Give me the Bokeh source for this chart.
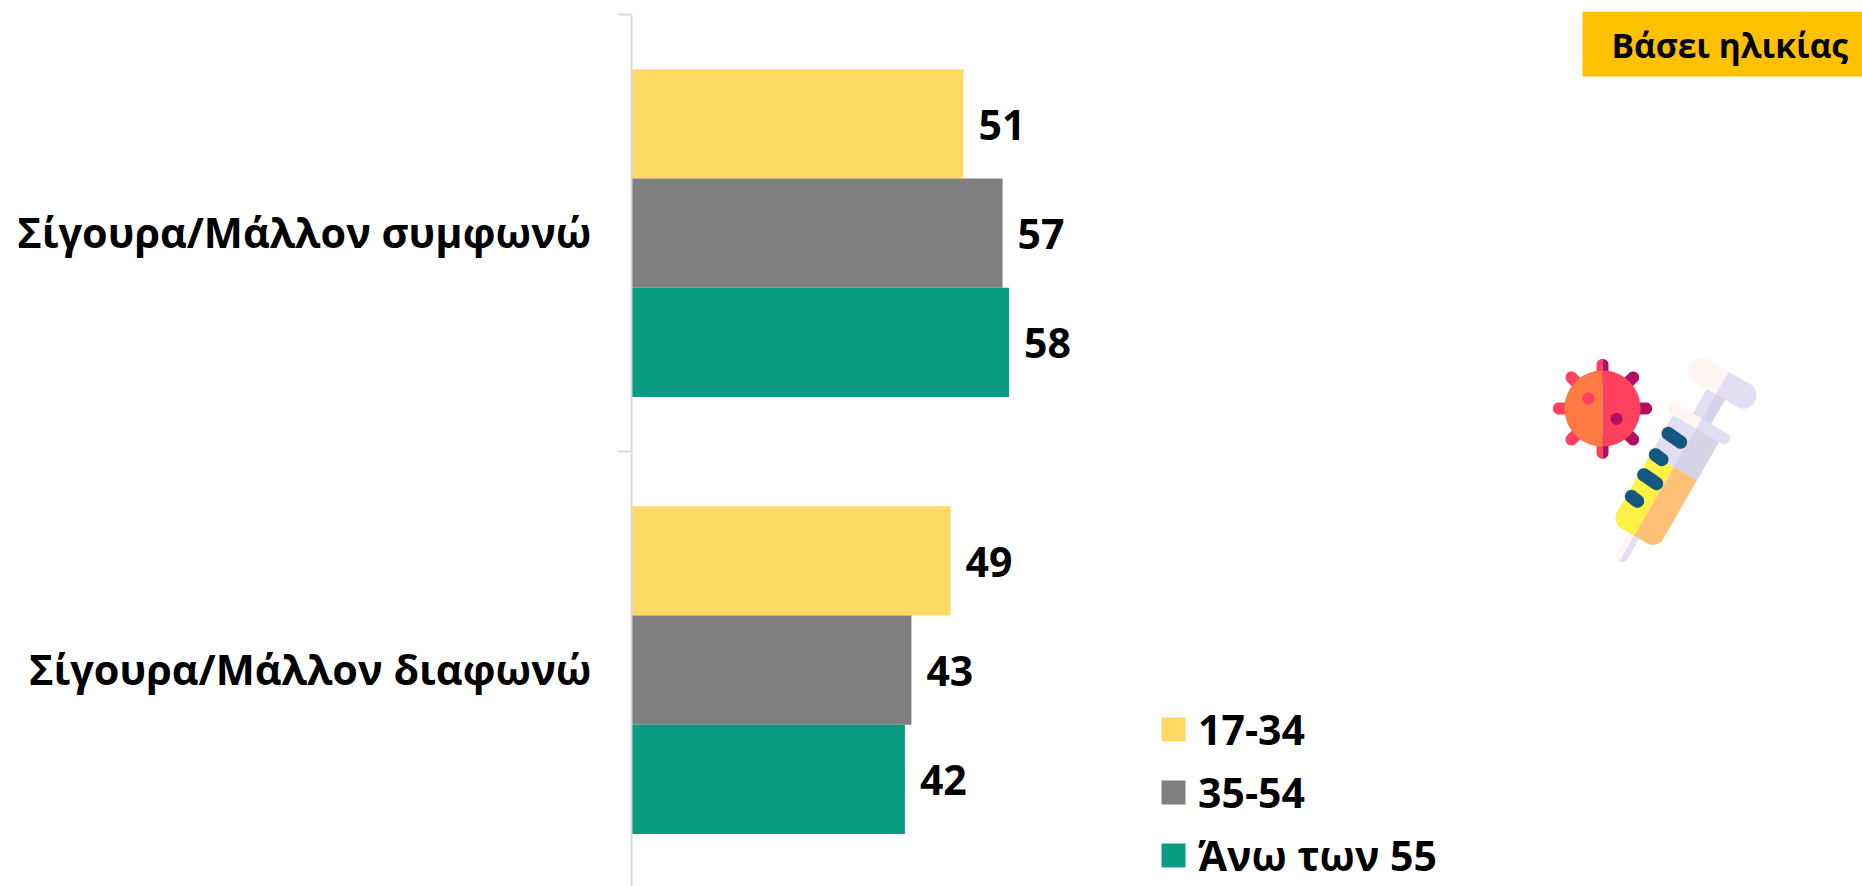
import numpy as np
from bokeh.core.properties import value
from bokeh.embed import file_html
from bokeh.models import FixedTicker, Legend, LegendItem, LinearAxis, Range1d
from bokeh.plotting import figure
from bokeh.resources import INLINE

categories = ["Σίγουρα/Μάλλον συμφωνώ", "Σίγουρα/Μάλλον διαφωνώ"]
age_groups = ["17-34", "35-54", "Άνω των 55"]
values_17_34 = [51, 49]
values_35_54 = [57, 43]
values_55_up = [58, 42]
series_colors = ["#FFD966", "#7F7F7F", "#0A9C82"]
badge_text = "Βάσει ηλικίας"

FONT = "Open Sans"
W, H = 1862, 886
LEFT, TOP = 631, 11
BAND = 437.0
PX_PER_UNIT = 6.51
ZERO_Y = 14.0

p = figure(width=W, height=H, output_backend="svg", toolbar_location=None,
           x_range=Range1d(0, (W - LEFT) / PX_PER_UNIT),
           y_range=Range1d((H - ZERO_Y) / BAND, (TOP - ZERO_Y) / BAND),
           min_border_left=LEFT, min_border_top=TOP,
           min_border_right=0, min_border_bottom=0,
           outline_line_color=None, background_fill_color="white")
p.grid.visible = False
p.xaxis.visible = False
p.yaxis.visible = False
p.renderers = []
p.left = []
p.below = []

# pixel-aligned ranges for the decorations (badge, icon)
p.extra_x_ranges["px"] = Range1d(LEFT, W)
p.extra_y_ranges["px"] = Range1d(H, TOP)

axis = LinearAxis(
    bounds=(0, 2),
    ticker=FixedTicker(ticks=[0.498, 1.498], minor_ticks=[0, 1, 2]),
    major_label_overrides={0.498: categories[0], 1.498: categories[1]},
    major_label_standoff=26,
    major_label_text_font=FONT, major_label_text_font_style="bold",
    major_label_text_font_size="41.4px", major_label_text_color="#000000",
    axis_line_color="#D9D9D9", axis_line_width=2,
    major_tick_line_color=None, major_tick_out=0, major_tick_in=0,
    minor_tick_line_color="#D9D9D9", minor_tick_line_width=2,
    minor_tick_out=14, minor_tick_in=0,
)
p.add_layout(axis, "left")

all_series = [values_17_34, values_35_54, values_55_up]
legend_items = []
for s, (vals, color, name) in enumerate(zip(all_series, series_colors, age_groups)):
    ys = [c + 0.25 + s * 0.25 for c in range(len(categories))]
    r = p.hbar(y=ys, right=vals, left=0, height=0.25, fill_color=color, line_color=None)
    legend_items.append(LegendItem(label=name, renderers=[r]))
    p.text(x=vals, y=ys, text=[str(v) for v in vals], x_offset=15, y_offset=1,
           text_align="left", text_baseline="middle", text_color="#000000",
           text_font=value(FONT), text_font_style="bold", text_font_size="41px")

legend = Legend(items=legend_items, location=(1158 - LEFT, 3),
                orientation="vertical", border_line_color=None,
                background_fill_alpha=0, padding=0, margin=0, spacing=7,
                glyph_width=30, glyph_height=30, label_standoff=10,
                label_text_font=FONT, label_text_font_style="bold",
                label_text_font_size="41px", label_text_color="#000000")
p.add_layout(legend, "center")

# badge
PX = dict(x_range_name="px", y_range_name="px")
p.quad(left=[1582], right=[1862], top=[11], bottom=[76], fill_color="#FFC000", line_color=None, **PX)
p.text(x=[1611], y=[44], text=[badge_text], text_align="left", text_baseline="middle",
       text_color="#000000", text_font=value(FONT), text_font_style="bold",
       text_font_size="33.6px", **PX)


# ---- decorative icon, described in a 3x zoomed pixel space ----
def zx(x):
    return 1500 + np.asarray(x, dtype=float) / 3


def zy(y):
    return 340 + np.asarray(y, dtype=float) / 3


def shape(x, y, color):
    p.patch(zx(x), zy(y), fill_color=color, line_color=None, **PX)


def disc(cx, cy, r):
    t = np.linspace(0, 2 * np.pi, 73)
    return cx + r * np.cos(t), cy + r * np.sin(t)


def capsule(x0, y0, x1, y1, r):
    a = np.arctan2(y1 - y0, x1 - x0)
    t0 = np.linspace(a + np.pi / 2, a + 3 * np.pi / 2, 19)
    t1 = np.linspace(a - np.pi / 2, a + np.pi / 2, 19)
    return (np.r_[x0 + r * np.cos(t0), x1 + r * np.cos(t1)],
            np.r_[y0 + r * np.sin(t0), y1 + r * np.sin(t1)])


OX, OY = 520.0, 380.0
UX, UY = -0.5, 0.866
VX, VY = 0.866, 0.5


def rrect(u0, u1, v0, v1, r):
    """rounded rectangle in the syringe's own axes; returns (u, v)"""
    corners = [(u1 - r, v1 - r, 0.0), (u0 + r, v1 - r, 0.5 * np.pi),
               (u0 + r, v0 + r, np.pi), (u1 - r, v0 + r, 1.5 * np.pi)]
    us, vs = [], []
    for cu, cv, a in corners:
        t = np.linspace(a, a + 0.5 * np.pi, 10)
        us.append(cu + r * np.cos(t))
        vs.append(cv + r * np.sin(t))
    return np.concatenate(us), np.concatenate(vs)


def syringe_part(u0, u1, v0, v1, r, light, dark):
    u, v = rrect(u0, u1, v0, v1, r)
    for col, vv in ((light, np.minimum(v, 0)), (dark, np.maximum(v, 0))):
        shape(OX + UX * u + VX * vv, OY + UY * u + VY * vv, col)


ORANGE, RED, PURPLE = "#FF7A45", "#FF405F", "#B00F62"
CX, CY = 306, 204
for x0, y0, x1, y1 in [(306, 73, 306, 110), (306, 337, 306, 300)]:
    x, y = capsule(x0, y0, x1, y1, 18)
    shape(np.minimum(x, CX), y, RED)
    shape(np.maximum(x, CX), y, PURPLE)
for x0, y0, x1, y1, col in [(175, 204, 220, 204, RED), (213, 111, 240, 138, RED),
                            (213, 297, 240, 270, RED), (437, 204, 392, 204, PURPLE),
                            (398, 111, 370, 138, PURPLE), (398, 297, 370, 270, PURPLE)]:
    shape(*capsule(x0, y0, x1, y1, 18), col)
x, y = disc(CX, CY, 114)
shape(np.minimum(x, CX), y, ORANGE)
shape(np.maximum(x, CX), y, RED)
shape(*disc(264, 174, 18), RED)
shape(*disc(348, 235, 18), PURPLE)

LIGHT, PALE, MID = "#FFF5F3", "#E2DFF4", "#D5D3E8"
syringe_part(205, 325, -18, 18, 17, LIGHT, PALE)       # needle
syringe_part(-290, -140, -32, 32, 0.1, PALE, MID)      # stem
syringe_part(-60, 238, -80, 80, 36, "#FFF145", "#FFC178")  # liquid
syringe_part(-135, 0, -80, 80, 0.1, PALE, MID)         # barrel
syringe_part(-168, -134, -105, 105, 15, LIGHT, PALE)   # flange
syringe_part(-330, -252, -112, 112, 36, LIGHT, PALE)   # plunger head
for x0, y0, x1, y1 in [(503, 279, 540, 305), (465, 343, 484, 357),
                       (430, 403, 468, 429), (393, 468, 411, 482)]:
    shape(*capsule(x0, y0, x1, y1, 20), "#14577F")

open("out.html", "w").write(file_html(p, INLINE))
